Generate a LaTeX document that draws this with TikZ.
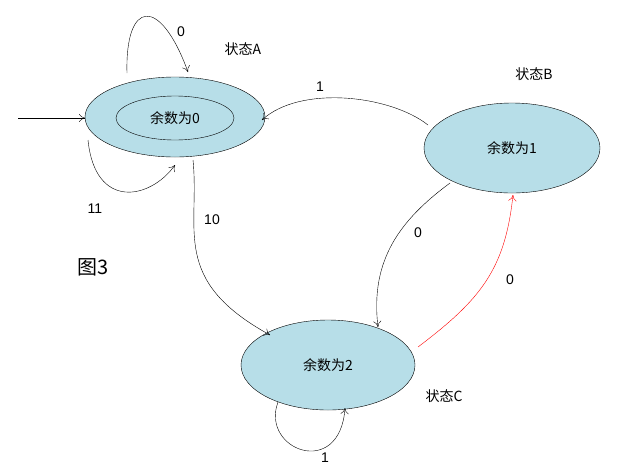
\documentclass[tikz,border=0pt]{standalone}
\usepackage{fontspec}
\setmainfont{Liberation Sans}
\newfontfamily\cjk{Noto Sans CJK SC}
\usetikzlibrary{arrows.meta}
\definecolor{fillb}{HTML}{B7DEE8}
\begin{document}
\begin{tikzpicture}[x=1pt,y=-1pt,
  lab/.style={font=\cjk\fontsize{14}{16}\selectfont},
  el/.style={font=\fontsize{14}{16}\selectfont},
  ed/.style={-{To[length=6pt,width=8pt]},thin}]
\useasboundingbox (0,0) rectangle (628,472);
\draw[fill=fillb] (175,117) ellipse [x radius=90,y radius=40];
\draw (175,118) ellipse [x radius=59,y radius=22];
\node[lab] (a) at (175,118) {余数为0};
\draw[fill=fillb] (512,148) ellipse [x radius=88,y radius=45];
\node[lab] (b) at (512,148) {余数为1};
\draw[fill=fillb] (328,365) ellipse [x radius=87,y radius=45];
\node[lab] (c) at (328,365) {余数为2};
\node[lab] (la) at (243,49) {状态A};
\node[lab] (lb) at (534,74) {状态B};
\node[lab] (lc) at (444,396) {状态C};
\node[font=\cjk\fontsize{20}{22}\selectfont] (f) at (93,267) {图3};
\coordinate (in0) at (18,118); \coordinate (in1) at (85,118);
\draw[ed] (in0) -- (in1);
\coordinate (a1) at (127,73); \coordinate (a2) at (188,72);
\draw[ed] (a1) .. controls (125,0) and (160,-5) .. (a2);
\node[el] (l0) at (181,32) {0};
\coordinate (a3) at (88,140); \coordinate (a4) at (175,165);
\draw[ed] (a3) .. controls (95,210) and (150,200) .. (a4);
\node[el] (l11) at (95,209) {11};
\coordinate (b1) at (428,125); \coordinate (a5) at (262,120);
\draw[ed] (b1) .. controls (390,95) and (300,85) .. (a5);
\node[el] (l1) at (320,87) {1};
\coordinate (a6) at (193,160); \coordinate (c1) at (270,335);
\draw[ed] (a6) .. controls (200,230) and (170,280) .. (c1);
\node[el] (l10) at (212,220) {10};
\coordinate (b2) at (450,183); \coordinate (c2) at (378,327);
\draw[ed] (b2) .. controls (400,220) and (370,260) .. (c2);
\node[el] (l0b) at (418,233) {0};
\coordinate (c3) at (418,347); \coordinate (b3) at (513,195);
\draw[ed,red] (c3) .. controls (480,300) and (505,270) .. (b3);
\node[el] (l0c) at (510,280) {0};
\coordinate (c4) at (278,402); \coordinate (c5) at (345,408);
\draw[ed] (c4) .. controls (260,450) and (340,480) .. (c5);
\node[el] (l1c) at (325,458) {1};
\end{tikzpicture}
\end{document}
